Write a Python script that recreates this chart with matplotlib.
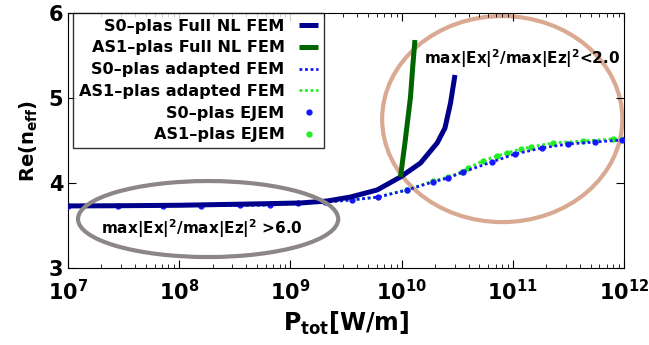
import numpy as np
import matplotlib
matplotlib.use("Agg")
import matplotlib.pyplot as plt
from matplotlib.patches import Ellipse

plt.rcParams['font.family'] = ['DejaVu Sans']
plt.rcParams['font.weight'] = 'bold'
plt.rcParams['mathtext.default'] = 'bf'

# exponents of P_tot [W/m] (log10) and Re(n_eff)
# S0 full nonlinear FEM
logp_s0_full = [7.0, 7.5, 8.0, 8.64, 9.09, 9.33, 9.54, 9.78, 9.99, 10.17, 10.32, 10.39, 10.44, 10.48]
n_s0_full = [3.73, 3.733, 3.738, 3.753, 3.765, 3.788, 3.835, 3.918, 4.071, 4.235, 4.471, 4.647, 4.941, 5.271]
# AS1 full nonlinear FEM
logp_as1_full = [9.99, 10.03, 10.08, 10.10, 10.12]
n_as1_full = [4.071, 4.471, 5.012, 5.365, 5.682]
# S0 adapted FEM / EJEM
logp_s0_ad = [7.0, 7.45, 7.85, 8.2, 8.55, 8.82, 9.07, 9.31, 9.55, 9.79, 10.05, 10.28, 10.42, 10.55, 10.81, 11.02, 11.26, 11.50, 11.74, 11.98]
n_s0_ad = [3.73, 3.73, 3.732, 3.735, 3.738, 3.741, 3.765, 3.776, 3.800, 3.835, 3.918, 4.012, 4.059, 4.129, 4.247, 4.341, 4.412, 4.459, 4.482, 4.506]
# AS1 adapted FEM / EJEM
logp_as1_ad = [7.0, 7.45, 7.85, 8.2, 8.55, 8.82, 9.07, 9.31, 9.55, 9.79, 10.05, 10.28, 10.42, 10.54, 10.60, 10.73, 10.86, 10.95, 11.07, 11.16, 11.36, 11.63, 11.90, 12.0]
n_as1_ad = [3.73, 3.73, 3.732, 3.735, 3.738, 3.741, 3.765, 3.776, 3.800, 3.837, 3.922, 4.02, 4.07, 4.129, 4.176, 4.259, 4.318, 4.353, 4.400, 4.424, 4.471, 4.494, 4.518, 4.52]

p_s0_full = np.power(10.0, logp_s0_full)
p_as1_full = np.power(10.0, logp_as1_full)
p_s0_ad = np.power(10.0, logp_s0_ad)
p_as1_ad = np.power(10.0, logp_as1_ad)

fig = plt.figure(figsize=(6.49, 3.45), dpi=100)
ax = fig.add_axes([68/649, 1-268/345, 556/649, 255/345])

ax.plot(p_s0_full, n_s0_full, color='#00008c', lw=3.6, label='S0–plas Full NL FEM', zorder=4,
        solid_capstyle='butt')
ax.plot(p_as1_full, n_as1_full, color='#006400', lw=3.6, label='AS1–plas Full NL FEM', zorder=4,
        solid_capstyle='butt')
ax.plot(p_as1_ad, n_as1_ad, color='#22ee22', lw=2.0, dashes=(1, 1), label='AS1–plas adapted FEM', zorder=2)
ax.plot(p_s0_ad, n_s0_ad, color='#1515ff', lw=2.0, dashes=(1, 1), label='S0–plas adapted FEM', zorder=3)
ax.plot(p_as1_ad[10:], n_as1_ad[10:], color='#22ee22', ls='none', marker='o', ms=3.5,
        label='AS1–plas EJEM', zorder=2)
ax.plot(p_s0_ad, n_s0_ad, color='#1515ff', ls='none', marker='o', ms=3.5, label='S0–plas EJEM', zorder=3)

ax.set_xscale('log')
ax.set_xlim(1e7, 1e12)
ax.set_ylim(3, 6)
ax.set_yticks([3, 4, 5, 6])
ax.tick_params(direction='in', which='both', top=True, right=True, labelsize=15)
ax.tick_params(axis='x', which='major', pad=8)
ax.tick_params(which='major', length=6)
ax.tick_params(which='minor', length=3)
for lab in ax.get_yticklabels():
    lab.set_fontweight('bold')

ax.set_xlabel(r'P$_{tot}$[W/m]', fontsize=17, fontweight='bold', labelpad=4)
ax.set_ylabel(r'Re(n$_{eff}$)', fontsize=14, fontweight='bold', labelpad=6)

e1 = Ellipse((0.252, 0.192), 0.468, 0.298, transform=ax.transAxes, fill=False,
             edgecolor='#8c8686', lw=3, zorder=5, clip_on=False)
e2 = Ellipse((0.781, 0.584), 0.432, 0.808, transform=ax.transAxes, fill=False,
             edgecolor='#d9a992', lw=3, zorder=1, clip_on=False)
ax.add_patch(e1)
ax.add_patch(e2)
ax.text(0.241, 0.155, r'max|Ex|$^2$/max|Ez|$^2$ >6.0', transform=ax.transAxes,
        ha='center', va='center', fontsize=11, fontweight='bold', zorder=6)
ax.text(0.817, 0.82, r'max|Ex|$^2$/max|Ez|$^2$<2.0', transform=ax.transAxes,
        ha='center', va='center', fontsize=11, fontweight='bold', zorder=6)

handles, labels = ax.get_legend_handles_labels()
order = ['S0–plas Full NL FEM', 'AS1–plas Full NL FEM', 'S0–plas adapted FEM',
         'AS1–plas adapted FEM', 'S0–plas EJEM', 'AS1–plas EJEM']
hmap = dict(zip(labels, handles))
leg = ax.legend([hmap[k] for k in order], order, loc='upper left', markerfirst=False,
                fontsize=11.6, frameon=True, fancybox=False, edgecolor='black',
                handlelength=1.2, handletextpad=0.9, bbox_to_anchor=(0.009, 1.0),
                borderaxespad=0.0, labelspacing=0.42, borderpad=0.35)
leg.get_frame().set_linewidth(1.0)
for t in leg.get_texts():
    t.set_fontweight('bold')

fig.savefig('out.png', dpi=100)
